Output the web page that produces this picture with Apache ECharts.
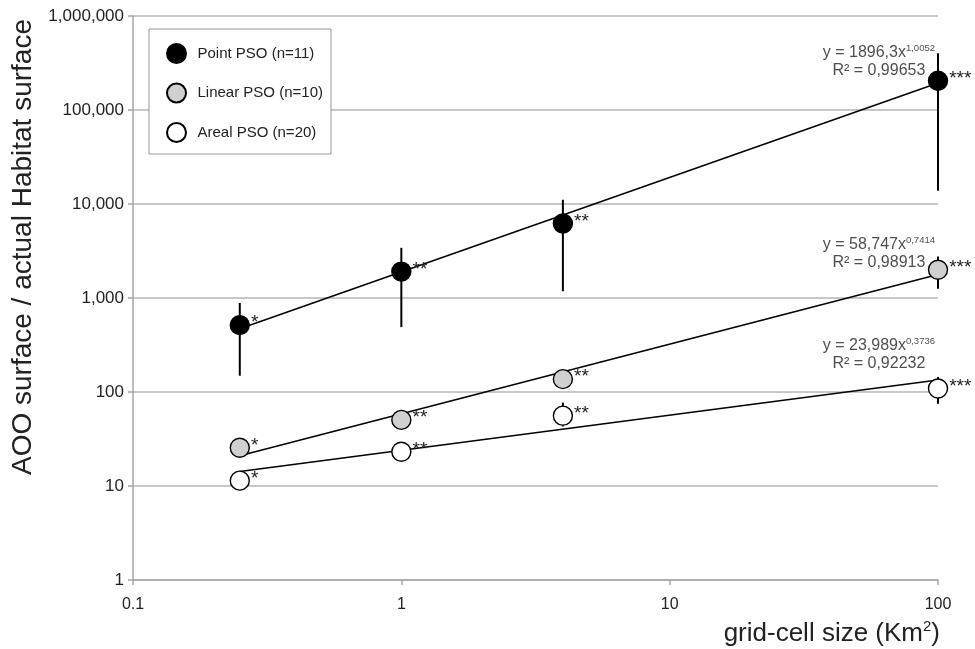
<!DOCTYPE html>
<html>
<head>
<meta charset="utf-8">
<script src="https://cdn.jsdelivr.net/npm/echarts@6/dist/echarts.min.js"></script>
<style>
  html, body { margin: 0; padding: 0; background: #fff; }
  #chart { width: 975px; height: 649px; }
</style>
</head>
<body>
<div id="chart"></div>
<script>
// ---- data ----
const seriesNames = ['Point PSO (n=11)', 'Linear PSO (n=10)', 'Areal PSO (n=20)'];
const gridCellSizes = [0.25, 1, 4, 100];
const pointPSO = [515, 1910, 6210, 205000];
const linearPSO = [25.5, 50.5, 137, 2000];
const arealPSO = [11.4, 23.1, 56, 109];
const pointErrLow = [149, 490, 1180, 13800];
const pointErrHigh = [885, 3420, 11100, 401000];
const linearErrLow = [null, null, null, 1256];
const linearErrHigh = [null, null, null, 2770];
const arealErrLow = [null, null, 43, 75];
const arealErrHigh = [null, null, 77, 144];
const significance = ['*', '**', '**', '***'];
const trendX = [0.25, 100];
const pointTrend = [470, 194000];
const linearTrend = [21, 1780];
const arealTrend = [14.3, 134];
const eqCoef = ['1896,3', '58,747', '23,989'];
const eqExp = ['1,0052', '0,7414', '0,3736'];
const eqR2 = ['0,99653', '0,98913', '0,92232'];
const xTickLabels = ['0.1', '1', '10', '100'];
const yTickLabels = ['1', '10', '100', '1,000', '10,000', '100,000', '1,000,000'];
const xTitle = '{m|grid-cell size (Km}{sup|2}{m|)}';
const yTitle = 'AOO surface / actual Habitat surface';

const FONT = 'Liberation Sans, Arial, Helvetica, sans-serif';
const fills = ['#000000', '#d0d0d0', '#ffffff'];
const eqLabelDistance = [3, 2.5, 7];
const values = [pointPSO, linearPSO, arealPSO];
const lows = [pointErrLow, linearErrLow, arealErrLow];
const highs = [pointErrHigh, linearErrHigh, arealErrHigh];
const trends = [pointTrend, linearTrend, arealTrend];

function pairs(xs, ys) { return xs.map((x, i) => [x, ys[i]]); }

const series = [];
// trend lines
trends.forEach((t, k) => {
  series.push({
    name: 'trend' + k, type: 'line', data: pairs(trendX, t),
    symbol: 'none', clip: false, silent: true, z: 2,
    lineStyle: { color: '#000', width: 1.5 }
  });
});
// error bars
lows.forEach((lo, k) => {
  const data = [];
  gridCellSizes.forEach((x, i) => {
    if (lo[i] != null && highs[k][i] != null) data.push([x, lo[i], highs[k][i]]);
  });
  series.push({
    name: 'err' + k, type: 'custom', data: data, z: 3, silent: true, clip: false,
    encode: { x: 0, y: [1, 2] },
    renderItem: function (params, api) {
      const x = api.value(0);
      const a = api.coord([x, api.value(1)]);
      const b = api.coord([x, api.value(2)]);
      return { type: 'line', shape: { x1: a[0], y1: a[1], x2: b[0], y2: b[1] },
               style: { stroke: '#000', lineWidth: 2 } };
    }
  });
});
// points
values.forEach((v, k) => {
  series.push({
    name: seriesNames[k], type: 'scatter', data: pairs(gridCellSizes, v),
    symbol: 'circle', symbolSize: 19, clip: false, z: 5,
    itemStyle: { color: fills[k], borderColor: '#000', borderWidth: 1.4, opacity: 1 },
    label: {
      show: true, position: 'right', distance: 1, offset: [0, -2],
      fontFamily: FONT, fontSize: 19, color: '#222',
      formatter: p => significance[p.dataIndex]
    },
    emphasis: { disabled: true }
  });
});
// equations anchored at the end of each trend line
series.push({
  name: 'equations', type: 'scatter', silent: true, clip: false, z: 6,
  symbol: 'circle', symbolSize: 1, itemStyle: { color: 'rgba(0,0,0,0)' },
  data: trends.map((t, k) => ({ value: [trendX[1], t[1]], label: { distance: eqLabelDistance[k] } })),
  label: {
    show: true, position: 'top', distance: 8, align: 'right', verticalAlign: 'bottom',
    offset: [-3, 0],
    formatter: p => '{a|y = ' + eqCoef[p.dataIndex] + 'x}{s|' + eqExp[p.dataIndex] + '}\n{a|R² = ' + eqR2[p.dataIndex] + '}',
    rich: {
      a: { fontFamily: FONT, fontSize: 16, color: '#222', lineHeight: 18, align: 'center' },
      s: { fontFamily: FONT, fontSize: 9.5, color: '#222', lineHeight: 10, verticalAlign: 'top', align: 'center' }
    }
  }
});

const chart = echarts.init(document.getElementById('chart'), null, { renderer: 'canvas' });
chart.setOption({
  animation: false,
  backgroundColor: '#fff',
  grid: { left: 133, right: 37, top: 16, bottom: 69, containLabel: false, outerBoundsMode: 'none' },
  legend: {
    data: seriesNames.map(n => ({ name: n, icon: 'circle' })),
    orient: 'vertical', left: 149, top: 29,
    itemWidth: 32, itemHeight: 19, itemGap: 18.5,
    padding: [14, 8, 11, 17],
    backgroundColor: '#fff', borderColor: '#999', borderWidth: 1, borderRadius: 0,
    textStyle: { fontFamily: FONT, fontSize: 15, color: '#222' },
    selectedMode: false
  },
  graphic: [{
    type: 'text', x: 940, y: 634, silent: true,
    style: {
      text: xTitle, align: 'right', verticalAlign: 'middle',
      fontFamily: FONT, fontSize: 26, fill: '#222',
      rich: {
        m: { fontFamily: FONT, fontSize: 26, fill: '#222', lineHeight: 30 },
        sup: { fontFamily: FONT, fontSize: 15, fill: '#222', verticalAlign: 'top', lineHeight: 17 }
      }
    }
  }],
  xAxis: {
    type: 'log', logBase: 10, min: 0.1, max: 100, splitNumber: 3,
    axisLine: { show: true, lineStyle: { color: '#a6a6a6', width: 1.5 } },
    axisTick: { show: true, length: 5, lineStyle: { color: '#a6a6a6', width: 1.5 } },
    minorTick: { show: false },
    splitLine: { show: false },
    axisLabel: {
      margin: 17, fontFamily: FONT, fontSize: 16, color: '#222',
      formatter: (v, i) => xTickLabels[i] !== undefined ? xTickLabels[i] : String(v)
    }
  },
  yAxis: {
    type: 'log', logBase: 10, min: 1, max: 1000000, splitNumber: 6,
    name: yTitle, nameLocation: 'middle', nameRotate: 90, nameGap: 79,
    nameTextStyle: { fontFamily: FONT, fontSize: 28, color: '#222', padding: [0, 0, 0, 102] },
    axisLine: { show: true, lineStyle: { color: '#a6a6a6', width: 1.5 } },
    axisTick: { show: true, length: 5, lineStyle: { color: '#a6a6a6', width: 1.5 } },
    minorTick: { show: false },
    splitLine: { show: true, lineStyle: { color: '#b5b5b5', width: 1.5 } },
    axisLabel: {
      margin: 9, fontFamily: FONT, fontSize: 17, color: '#222',
      formatter: (v, i) => yTickLabels[i] !== undefined ? yTickLabels[i] : String(v)
    }
  },
  series: series
});
</script>
</body>
</html>
